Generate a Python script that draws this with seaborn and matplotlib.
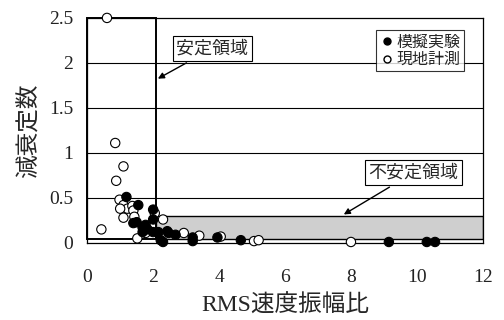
import pandas as pd
import seaborn as sns
import matplotlib.pyplot as plt
from matplotlib.patches import Rectangle
from matplotlib.lines import Line2D

# 模擬実験 (filled markers)
exp_x = [1.19, 1.55, 1.40, 1.50, 1.68, 1.77, 1.83, 1.68, 2.0, 2.0, 2.0, 2.16, 2.23,
         2.3, 2.43, 2.47, 2.68, 3.2, 3.2, 3.95, 4.66, 9.15, 10.3, 10.55]
exp_y = [0.51, 0.42, 0.22, 0.23, 0.17, 0.2, 0.15, 0.12, 0.37, 0.26, 0.12, 0.12, 0.03,
         0.01, 0.13, 0.11, 0.09, 0.06, 0.02, 0.06, 0.03, 0.01, 0.01, 0.01]

# 現地計測 (open markers)
field_x = [0.6, 0.85, 1.1, 0.88, 0.43, 0.98, 1.1, 1.22, 1.0, 1.37, 1.4, 1.1, 1.43,
           1.52, 1.77, 2.05, 2.3, 2.93, 3.4, 4.05, 5.06, 5.2, 8.0]
field_y = [2.5, 1.11, 0.85, 0.69, 0.15, 0.48, 0.42, 0.38, 0.38, 0.41, 0.36, 0.28, 0.29,
           0.05, 0.11, 0.33, 0.26, 0.11, 0.08, 0.07, 0.02, 0.03, 0.01]

x_ticks = [0, 2, 4, 6, 8, 10, 12]
y_ticks = [0, 0.5, 1, 1.5, 2, 2.5]
y_tick_labels = ["0", "0.5", "1", "1.5", "2", "2.5"]

df = pd.DataFrame({
    "x": field_x + exp_x,
    "y": field_y + exp_y,
    "kind": ["現地計測"] * len(field_x) + ["模擬実験"] * len(exp_x),
})

sns.set_style("white")
plt.rcParams["font.family"] = ["Liberation Serif", "Noto Sans CJK JP"]

fig = plt.figure(figsize=(5.04, 3.2), dpi=100)
ax = fig.add_axes([0.173, 0.241, 0.785, 0.703])

# horizontal grid lines
for v in y_ticks[1:-1]:
    ax.axhline(v, color="black", lw=0.8, zorder=0)

# stable / unstable regions
ax.add_patch(Rectangle((0, 0.04), 2.1, 2.46, fill=False, edgecolor="black", lw=1.4, zorder=1, clip_on=False))
ax.add_patch(Rectangle((2.1, 0.04), 9.9, 0.26, facecolor="#cfcfcf", edgecolor="black", lw=1.0, zorder=1))

sns.scatterplot(data=df, x="x", y="y", hue="kind",
                palette={"現地計測": "white", "模擬実験": "black"},
                edgecolor="black", linewidth=0.8, s=45, legend=False,
                ax=ax, zorder=3, clip_on=False)

ax.set_xlim(0, 12)
ax.set_ylim(0, 2.5)
ax.set_xticks(x_ticks)
ax.set_yticks(y_ticks)
ax.set_yticklabels(y_tick_labels)
ax.tick_params(axis="both", labelsize=14, colors="#222222")
ax.tick_params(axis="x", direction="in", length=3, pad=19)
ax.tick_params(axis="y", length=0, pad=10)
for sp in ax.spines.values():
    sp.set_color("black")
    sp.set_linewidth(0.9)

ax.set_xlabel("RMS速度振幅比", fontsize=17, labelpad=6)
ax.set_ylabel("減衰定数", fontsize=17, labelpad=6)

bbox = dict(boxstyle="square,pad=0.2", facecolor="white", edgecolor="black", lw=0.8)
arrow = dict(arrowstyle="-|>", color="black", lw=1.0, mutation_scale=9)
ax.annotate("安定領域", xy=(2.07, 1.81), xytext=(3.8, 2.16), fontsize=13,
            family=["Noto Sans CJK JP"], ha="center", va="center",
            bbox=bbox, arrowprops=arrow, zorder=5)
ax.annotate("不安定領域", xy=(7.71, 0.3), xytext=(9.9, 0.78), fontsize=13,
            family=["Noto Sans CJK JP"], ha="center", va="center",
            bbox=bbox, arrowprops=arrow, zorder=5)

handles = [
    Line2D([], [], marker="o", ls="", markerfacecolor="black", markeredgecolor="black", markersize=5, label="模擬実験"),
    Line2D([], [], marker="o", ls="", markerfacecolor="white", markeredgecolor="black", markersize=5, label="現地計測"),
]
leg = ax.legend(handles=handles, loc="upper right", bbox_to_anchor=(0.96, 0.96),
                prop={"family": ["Noto Sans CJK JP"], "size": 11.5},
                frameon=True, fancybox=False, handletextpad=0.1, handlelength=1.0,
                borderpad=0.2, labelspacing=0.05, borderaxespad=0.2)
leg.get_frame().set_edgecolor("black")
leg.get_frame().set_linewidth(0.8)
leg.set_zorder(6)

plt.savefig("out.png", dpi=100)
plt.close()
